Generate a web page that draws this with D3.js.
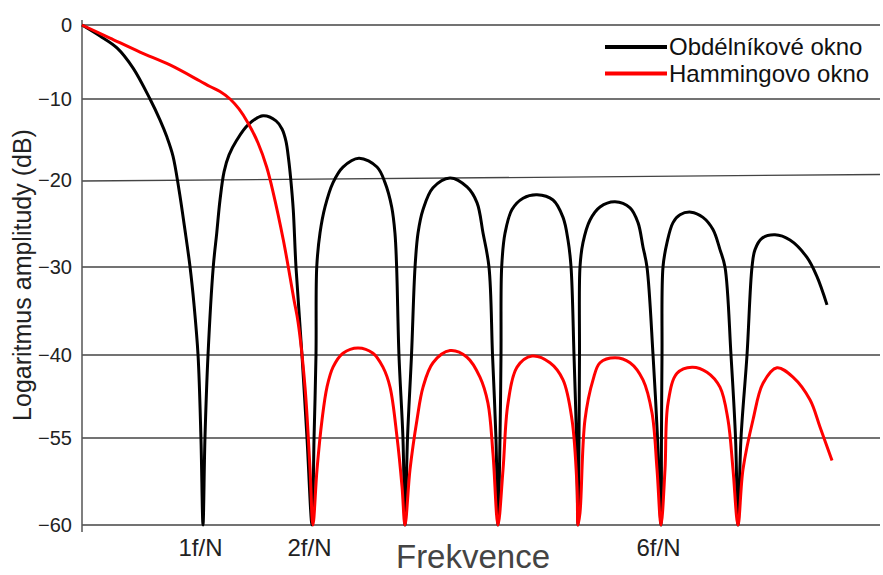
<!DOCTYPE html>
<html>
<head>
<meta charset="utf-8">
<script src="https://cdn.jsdelivr.net/npm/d3@7"></script>
<style>
  body { margin: 0; background: #fff; }
  text { font-family: "Liberation Sans", Arial, sans-serif; }
</style>
</head>
<body>
<div id="chart"></div>
<script>
// series names (legend)
const seriesNames = ["Obdélníkové okno", "Hammingovo okno"]

// y ticks (dB) and x ticks (multiples of f/N)
const yTicks = [0, -10, -20, -30, -40, -55, -60]
const xTicks = [1, 2, 6]
const xTickLabels = ["1f/N", "2f/N", "6f/N"]

// rectangular window: frequency in f/N, amplitude in dB (one row per lobe)
const rectFreq = [
  0, 0.149, 0.289, 0.421, 0.562, 0.645, 0.702, 0.752, 0.802, 0.851, 0.893, 0.926, 0.959, 0.983, 1,
  1.018, 1.046, 1.094, 1.126, 1.156, 1.193, 1.239, 1.309, 1.413, 1.55, 1.67, 1.725, 1.761, 1.786, 1.805, 1.828, 1.853, 1.908, 1.954, 2,
  2.022, 2.043, 2.051, 2.086, 2.14, 2.226, 2.333, 2.505, 2.699, 2.785, 2.857, 2.892, 2.91, 2.935, 2.978, 3,
  3.027, 3.07, 3.108, 3.14, 3.194, 3.301, 3.484, 3.667, 3.774, 3.839, 3.903, 3.941, 3.978, 4,
  4.025, 4.0375, 4.046, 4.088, 4.175, 4.313, 4.488, 4.688, 4.813, 4.875, 4.913, 4.95, 4.981, 5,
  5.012, 5.018, 5.024, 5.06, 5.145, 5.265, 5.446, 5.627, 5.723, 5.783, 5.831, 5.904, 5.958, 6,
  6.006, 6.013, 6.026, 6.078, 6.156, 6.247, 6.39, 6.545, 6.675, 6.766, 6.831, 6.909, 6.968, 7,
  7.039, 7.117, 7.182, 7.221, 7.312, 7.481, 7.675, 7.896, 8.026, 8.156
]
const rectDb = [
  0, -1.49, -3.1, -5.8, -10, -12.6, -14.7, -17.04, -21.15, -25.75, -30, -34.3, -40, -55, -60,
  -55, -40, -30, -26.1, -22.3, -19, -16.9, -15.1, -13.2, -12.07, -12.7, -13.7, -15.2, -17.5, -19.9, -23.4, -30, -40, -55, -60,
  -55, -40, -30, -26.1, -23.1, -20.3, -18.4, -17.3, -18.4, -20.3, -23.1, -26.1, -30, -40, -55, -60,
  -55, -40, -30, -26.1, -23.4, -20.9, -19.75, -20.8, -22.6, -26.1, -30, -40, -55, -60,
  -55, -40, -30, -26.1, -23.4, -22.1, -21.7, -22.3, -24.3, -26.9, -30, -40, -55, -60,
  -55, -40, -30, -27.2, -24.6, -23.1, -22.5, -23.2, -24.9, -27.7, -30, -40, -55, -60,
  -55, -40, -30, -27.2, -24.9, -24, -23.7, -24.3, -25.7, -28, -30, -40, -55, -60,
  -55, -40, -30, -28, -26.7, -26.3, -26.9, -28.9, -31.1, -34.3
]

// Hamming window
const hammFreq = [
  0, 0.231, 0.479, 0.727, 0.975, 1.064, 1.156, 1.248, 1.33, 1.413, 1.505, 1.584, 1.645, 1.737, 1.798, 1.835, 1.872, 1.936, 1.982, 2.01,
  2.054, 2.108, 2.161, 2.226, 2.333, 2.495, 2.656, 2.763, 2.839, 2.914, 2.968, 3,
  3.054, 3.129, 3.194, 3.301, 3.484, 3.667, 3.806, 3.892, 3.946, 4,
  4.063, 4.125, 4.238, 4.425, 4.65, 4.813, 4.925, 4.988, 5,
  5.024, 5.084, 5.181, 5.265, 5.446, 5.627, 5.783, 5.892, 5.952, 6,
  6.052, 6.091, 6.208, 6.403, 6.597, 6.766, 6.87, 6.935, 7,
  7.065, 7.195, 7.325, 7.506, 7.714, 7.935, 8.065, 8.221
]
const hammDb = [
  0, -1.76, -3.65, -5.4, -7.57, -8.31, -8.99, -10, -11.23, -12.96, -15.43, -18.4, -21.5, -26.9, -31.1, -33.75, -36.25, -45.8, -56.8, -60,
  -56.8, -51.7, -45.8, -42.2, -39.8, -39.2, -39.8, -42.2, -45.8, -54.8, -57.8, -60,
  -56.8, -51.7, -45.8, -41.4, -39.5, -40.4, -44, -48.7, -55.9, -60,
  -56.8, -48.7, -42.2, -40.2, -41.4, -44.5, -51.7, -57.8, -60,
  -59.3, -51.7, -44.5, -41.4, -40.5, -41.4, -44.5, -50.5, -56.8, -60,
  -56.8, -48.7, -43.3, -42.2, -43.1, -45.8, -51.7, -56.8, -60,
  -56.8, -51.7, -45.1, -42.3, -44, -48.1, -53, -56.3
]

const width = 883
const height = 575
const gridRight = 880

const svg = d3.select("#chart")
  .append("svg")
  .attr("width", width)
  .attr("height", height)

// the drawing has uneven spacing on both axes, so both scales are piecewise
const x = d3.scaleLinear()
  .domain([0, 1, 2, 3, 4, 5, 6, 7])
  .range([82, 203, 312, 405, 498, 578, 661, 738])

const y = d3.scaleLinear()
  .domain(yTicks)
  .range([25, 99, 180, 267, 355, 438, 525])

// horizontal grid lines (the -20 one is drawn a bit tilted, like the original)
svg.append("g")
  .selectAll("line")
  .data(yTicks)
  .join("line")
  .attr("x1", x(0))
  .attr("x2", gridRight)
  .attr("y1", d => y(d) + (d === -20 ? 1 : 0))
  .attr("y2", d => y(d) - (d === -20 ? 5.5 : 0))
  .attr("stroke", "#444")
  .attr("stroke-width", 1.3)

// y axis
const yAxis = svg.append("g")
  .attr("transform", `translate(${x(0)},0)`)
  .call(d3.axisLeft(y).tickValues(yTicks).tickSize(0).tickPadding(10))
yAxis.select(".domain").remove()
yAxis.append("line")
  .attr("y1", y(0) - 5)
  .attr("y2", y(-60) + 7)
  .attr("stroke", "#555")
  .attr("stroke-width", 1.5)
yAxis.selectAll(".tick text")
  .attr("font-size", 20)
  .attr("fill", "#222")
  .attr("font-family", "Liberation Sans, Arial, sans-serif")

// x axis labels only
const xAxis = svg.append("g")
  .attr("transform", `translate(0,${y(-60)})`)
  .call(d3.axisBottom(x).tickValues(xTicks).tickFormat((d, i) => xTickLabels[i]).tickSize(0).tickPadding(14))
xAxis.select(".domain").remove()
xAxis.selectAll(".tick text")
  .attr("font-size", 24)
  .attr("fill", "#222")
  .attr("dx", -3)
  .attr("font-family", "Liberation Sans, Arial, sans-serif")

// axis titles
svg.append("text")
  .attr("x", 473)
  .attr("y", 568)
  .attr("text-anchor", "middle")
  .attr("font-size", 33)
  .attr("fill", "#444")
  .text("Frekvence")

svg.append("text")
  .attr("transform", "translate(31,275) rotate(-90)")
  .attr("text-anchor", "middle")
  .attr("font-size", 25)
  .attr("fill", "#222")
  .text("Logaritmus amplitudy (dB)")

// curves
const line = d3.line()
  .x(d => x(d[0]))
  .y(d => y(d[1]))
  .curve(d3.curveCatmullRom.alpha(0.5))

const series = [
  { name: seriesNames[0], color: "#000", pts: d3.zip(rectFreq, rectDb) },
  { name: seriesNames[1], color: "#ff0000", pts: d3.zip(hammFreq, hammDb) }
]

svg.append("g")
  .selectAll("path")
  .data(series)
  .join("path")
  .attr("d", d => line(d.pts))
  .attr("fill", "none")
  .attr("stroke", d => d.color)
  .attr("stroke-width", 3)
  .attr("stroke-linejoin", "round")

// legend
const legend = svg.append("g")
  .selectAll("g")
  .data(series)
  .join("g")
  .attr("transform", (d, i) => `translate(605,${47 + i * 26.5})`)
legend.append("line")
  .attr("x1", 0)
  .attr("x2", 62)
  .attr("stroke", d => d.color)
  .attr("stroke-width", 4)
legend.append("text")
  .attr("x", 64)
  .attr("y", 8)
  .attr("font-size", 24)
  .attr("fill", "#111")
  .text(d => d.name)
</script>
</body>
</html>
